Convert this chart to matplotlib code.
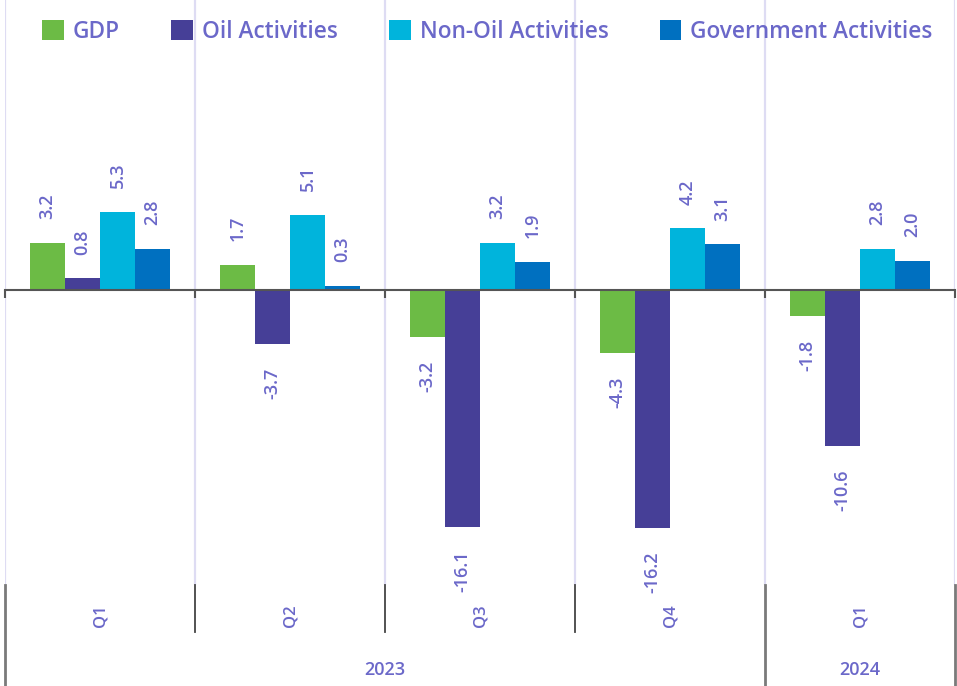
import matplotlib
matplotlib.use("Agg")
import matplotlib.pyplot as plt
import matplotlib.transforms as mtransforms
from matplotlib.lines import Line2D
import numpy as np

quarters = ["Q1", "Q2", "Q3", "Q4", "Q1"]
years = ["2023", "2024"]
year_spans = [(0, 3), (4, 4)]
series_names = ["GDP", "Oil Activities", "Non-Oil Activities", "Government Activities"]
gdp = [3.2, 1.7, -3.2, -4.3, -1.8]
oil = [0.8, -3.7, -16.1, -16.2, -10.6]
non_oil = [5.3, 5.1, 3.2, 4.2, 2.8]
gov = [2.8, 0.3, 1.9, 3.1, 2.0]
colors = ["#6cbb45", "#463f97", "#00b4dc", "#0070c0"]
text_color = "#6b68c9"

plt.rcParams['font.family'] = ['Open Sans', 'DejaVu Sans']

fig = plt.figure(figsize=(9.57, 6.86), dpi=100)
ax = fig.add_axes([5 / 957, (686 - 585) / 686, 950 / 957, 585 / 686])

n = len(quarters)
x = np.arange(n)
w = 0.184
series = [gdp, oil, non_oil, gov]
offsets = [-1.5, -0.5, 0.5, 1.5]

ax.set_xlim(-0.5, n - 0.5)
ax.set_ylim(-20.07, 19.73)

# gridlines at group boundaries
for b in np.arange(-0.5, n, 1.0):
    ax.axvline(b, color="#dedcf3", lw=1.6, zorder=0)

for vals, off, c, name in zip(series, offsets, colors, series_names):
    ax.bar(x + off * w, vals, width=w, color=c, label=name, zorder=2, linewidth=0)
    for xi, v in zip(x + off * w, vals):
        if v >= 0:
            ax.annotate(f"{v:.1f}", (xi, v), xytext=(0, 17), textcoords="offset points",
                        rotation=90, ha="center", va="bottom", fontsize=13,
                        fontweight="semibold", color=text_color)
        else:
            ax.annotate(f"{v:.1f}", (xi, v), xytext=(0, -17), textcoords="offset points",
                        rotation=90, ha="center", va="top", fontsize=13,
                        fontweight="semibold", color=text_color)

# axes styling
for s in ["top", "right", "left"]:
    ax.spines[s].set_visible(False)
ax.spines["bottom"].set_position(("data", 0))
ax.spines["bottom"].set_color("#555555")
ax.spines["bottom"].set_linewidth(1.5)
ax.spines["bottom"].set_zorder(3)
ax.set_yticks([])
ax.set_xticks(np.arange(-0.5, n, 1.0))
ax.set_xticklabels([])
ax.tick_params(axis="x", length=6, width=1.5, color="#555555", direction="out")

trans = mtransforms.blended_transform_factory(ax.transData, ax.transAxes)

# category labels
for i, q in enumerate(quarters):
    ax.text(i, -0.053, q, transform=trans, rotation=90, ha="center", va="center",
            fontsize=12, fontweight="semibold", color=text_color)

# quarter separators
for b in [0.5, 1.5, 2.5]:
    ax.add_line(Line2D([b, b], [0, -0.080], transform=trans, color="#444444", lw=1.3, clip_on=False))
# year separators
for b in [-0.5, 3.5, 4.5]:
    ax.add_line(Line2D([b, b], [0, -0.175], transform=trans, color="#7a7a7a", lw=2.0, clip_on=False))

for yr, (a, bnd) in zip(years, year_spans):
    ax.text((a + bnd) / 2, -0.145, yr, transform=trans, ha="center", va="center",
            fontsize=13, fontweight="semibold", color=text_color)

leg = ax.legend(loc="center", bbox_to_anchor=(0.508, 0.946), ncol=4, frameon=False,
                handlelength=0.95, handleheight=0.95, handletextpad=0.4,
                columnspacing=2.27, prop={"size": 16.3, "weight": "semibold"})
for t in leg.get_texts():
    t.set_color(text_color)

fig.savefig("out.png", dpi=100)
